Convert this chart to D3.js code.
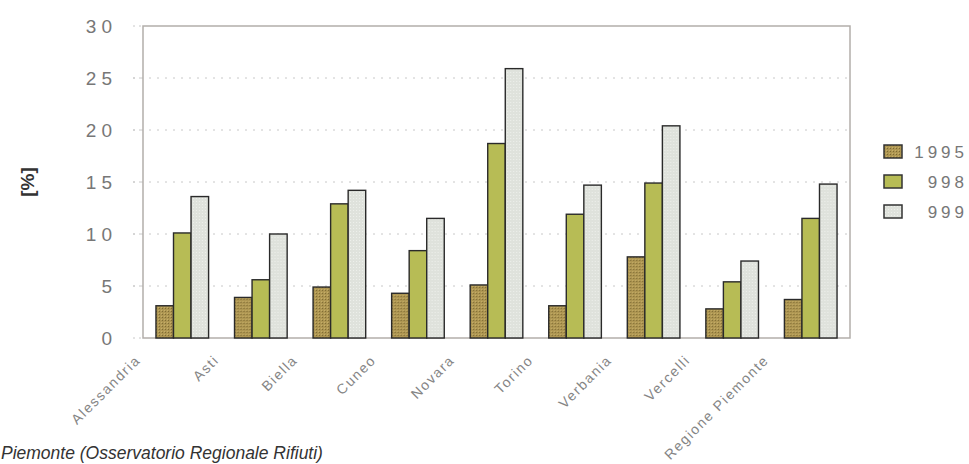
<!DOCTYPE html>
<html>
<head>
<meta charset="utf-8">
<script src="https://cdn.jsdelivr.net/npm/d3@7"></script>
<style>
  body { margin: 0; background: #fff; }
  svg { display: block; font-family: "Liberation Sans", Arial, sans-serif; }
</style>
</head>
<body>
<svg></svg>
<script>
'use strict';
// data
var provinces = ['Alessandria', 'Asti', 'Biella', 'Cuneo', 'Novara', 'Torino', 'Verbania', 'Vercelli', 'Regione Piemonte'];
var years = ['1995', '998', '999'];
var v1995 = [3.1, 3.9, 4.9, 4.3, 5.1, 3.1, 7.8, 2.8, 3.7];
var v1998 = [10.1, 5.6, 12.9, 8.4, 18.7, 11.9, 14.9, 5.4, 11.5];
var v1999 = [13.6, 10.0, 14.2, 11.5, 25.9, 14.7, 20.4, 7.4, 14.8];
var yTicks = [0, 5, 10, 15, 20, 25, 30];

var series = [v1995, v1998, v1999];

var canvasWidth = 969;
var canvasHeight = 464;
var margin = {top: 26, left: 143, right: 119, bottom: 126};
var width = canvasWidth - margin.left - margin.right;
var height = canvasHeight - margin.top - margin.bottom;

var svg = d3.select('svg')
  .attr('width', canvasWidth)
  .attr('height', canvasHeight);

// fill patterns
var defs = svg.append('defs');
var p1 = defs.append('pattern').attr('id', 'p1995')
  .attr('width', 3).attr('height', 3).attr('patternUnits', 'userSpaceOnUse');
p1.append('rect').attr('width', 3).attr('height', 3).attr('fill', '#ae9652');
p1.append('rect').attr('width', 1).attr('height', 1).attr('fill', '#7d6a33');
p1.append('rect').attr('x', 2).attr('y', 2).attr('width', 1).attr('height', 1).attr('fill', '#c7b06a');
var p3 = defs.append('pattern').attr('id', 'p1999')
  .attr('width', 3).attr('height', 3).attr('patternUnits', 'userSpaceOnUse');
p3.append('rect').attr('width', 3).attr('height', 3).attr('fill', '#dfe2dc');
p3.append('rect').attr('x', 1).attr('y', 1).attr('width', 1).attr('height', 1).attr('fill', '#eef0ec');

var fills = ['url(#p1995)', '#b7bc55', 'url(#p1999)'];

var g = svg.append('g')
  .attr('transform', 'translate(' + margin.left + ',' + margin.top + ')');

var x0 = d3.scaleBand().domain(provinces).range([0, width]).paddingInner(0.33).paddingOuter(0.165);
var x1 = d3.scaleBand().domain(years).range([0, x0.bandwidth()]);
var y = d3.scaleLinear().domain([0, 30]).range([height, 0]);

// gridlines
g.selectAll('.grid')
  .data(yTicks.filter(function(d) { return d > 0 && d < 30; }))
  .enter().append('line')
  .attr('x1', -10).attr('x2', width)
  .attr('y1', function(d) { return y(d); })
  .attr('y2', function(d) { return y(d); })
  .attr('stroke', '#c8c8c8')
  .attr('stroke-width', 1)
  .attr('stroke-dasharray', '2,6');

// small ticks left of the frame
g.selectAll('.tk')
  .data(yTicks)
  .enter().append('line')
  .attr('x1', -10).attr('x2', 0)
  .attr('y1', function(d) { return y(d); })
  .attr('y2', function(d) { return y(d); })
  .attr('stroke', '#c8c8c8')
  .attr('stroke-dasharray', '2,4');

// frame
g.append('rect')
  .attr('width', width).attr('height', height)
  .attr('fill', 'none')
  .attr('stroke', '#b3aeaa')
  .attr('stroke-width', 1.5);

// y axis labels
var yAxis = g.append('g').call(d3.axisLeft(y).tickValues(yTicks).tickSize(0).tickPadding(26));
yAxis.select('.domain').remove();
yAxis.selectAll('text')
  .attr('fill', '#777')
  .style('font-size', '19px')
  .style('letter-spacing', '5px')
  .attr('dy', '0.36em');

// bars
var groups = g.selectAll('.grp')
  .data(provinces)
  .enter().append('g')
  .attr('transform', function(d) { return 'translate(' + x0(d) + ',0)'; });

groups.selectAll('rect')
  .data(function(d, i) { return series.map(function(s, j) { return {year: years[j], value: s[i], k: j}; }); })
  .enter().append('rect')
  .attr('x', function(d) { return x1(d.year); })
  .attr('y', function(d) { return y(d.value); })
  .attr('width', x1.bandwidth())
  .attr('height', function(d) { return height - y(d.value); })
  .attr('fill', function(d) { return fills[d.k]; })
  .attr('stroke', '#2a2a2a')
  .attr('stroke-width', 1.4);

// x labels (rotated)
g.selectAll('.xl')
  .data(provinces)
  .enter().append('text')
  .attr('transform', function(d) {
    return 'translate(' + (x0(d) + x0.bandwidth() / 2 - 41) + ',' + (height + 23) + ') rotate(-45)';
  })
  .attr('text-anchor', 'end')
  .attr('fill', '#858585')
  .style('font-size', '14px')
  .style('letter-spacing', '1.6px')
  .text(function(d) { return d; });

// y title
svg.append('text')
  .attr('transform', 'translate(34,182) rotate(-90)')
  .attr('text-anchor', 'middle')
  .attr('fill', '#333')
  .style('font-size', '19px')
  .style('font-weight', 'bold')
  .text('[%]');

// legend
var legend = svg.append('g').attr('transform', 'translate(884,145)');
legend.selectAll('rect')
  .data(years)
  .enter().append('rect')
  .attr('x', 0)
  .attr('y', function(d, i) { return i * 30; })
  .attr('width', 18).attr('height', 13)
  .attr('fill', function(d, i) { return fills[i]; })
  .attr('stroke', '#333')
  .attr('stroke-width', 1.5);
legend.selectAll('text')
  .data(years)
  .enter().append('text')
  .attr('x', 84)
  .attr('y', function(d, i) { return i * 30 + 7; })
  .attr('dy', '0.36em')
  .attr('text-anchor', 'end')
  .attr('fill', '#777')
  .style('font-size', '17px')
  .style('letter-spacing', '4px')
  .text(function(d) { return d; });

// source caption
svg.append('text')
  .attr('x', 1)
  .attr('y', 459)
  .attr('fill', '#333')
  .style('font-size', '17.5px')
  .style('font-style', 'italic')
  .text('Piemonte (Osservatorio Regionale Rifiuti)');
</script>
</body>
</html>
